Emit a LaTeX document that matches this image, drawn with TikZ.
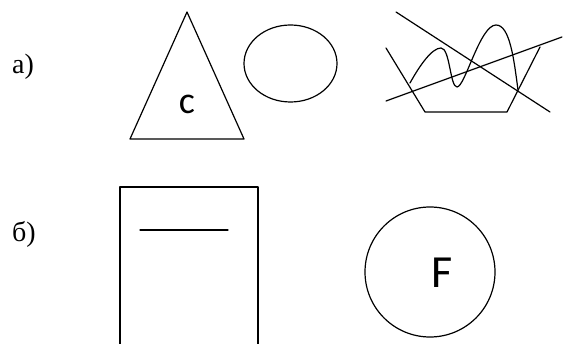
\documentclass[tikz,border=0pt]{standalone}
\usepackage{fontspec}
\setmainfont{Liberation Serif}
\newfontfamily\figfont{Carlito}
\usetikzlibrary{positioning}

\begin{document}
\begin{tikzpicture}[
			x=1pt, y=-1pt,
			line width=1.2pt,
			line cap=round,
			line join=round,
			tag/.style={font=\fontsize{28}{30}\selectfont},
			letter/.style={font=\figfont\fontsize{38}{40}\selectfont}
			]
			\useasboundingbox (0,0) rectangle (564,344);
			
			% Labels
			\node[tag] (taga) at (23,67) {а)};
			\node[tag] (tagb) at (24,234) {б)};
			
			% Triangle
			\draw (187,12) -- (130,139) -- (244,139) -- cycle;
			\node[letter] (letc) at (187,104) {c};
			
			% Ellipse
			\draw (290.5,63.5) ellipse [x radius=46.5, y radius=38.5];
			
			% Crown
			\draw (386,48) -- (425,112) -- (507,112) -- (540,47);
			\draw (396,12) -- (550,112);
			\draw (386,101) -- (562,37);
			\draw (410,83) .. controls (420,65) and (432,48) .. (441,48)
				.. controls (450,48) and (450,87) .. (457,87)
				.. controls (465,87) and (480,25) .. (496,25)
				.. controls (510,25) and (514,60) .. (518,90);
			
			% Sheet
			\draw (120,350) -- (120,187) -- (258,187) -- (258,350);
			\draw (140,230) -- (228,230);
			
			% Circle
			\draw (430,272) circle [radius=65];
			\node[letter, font=\figfont\fontsize{46}{48}\selectfont] (letf) at (442,273) {F};
		\end{tikzpicture}
\end{document}
